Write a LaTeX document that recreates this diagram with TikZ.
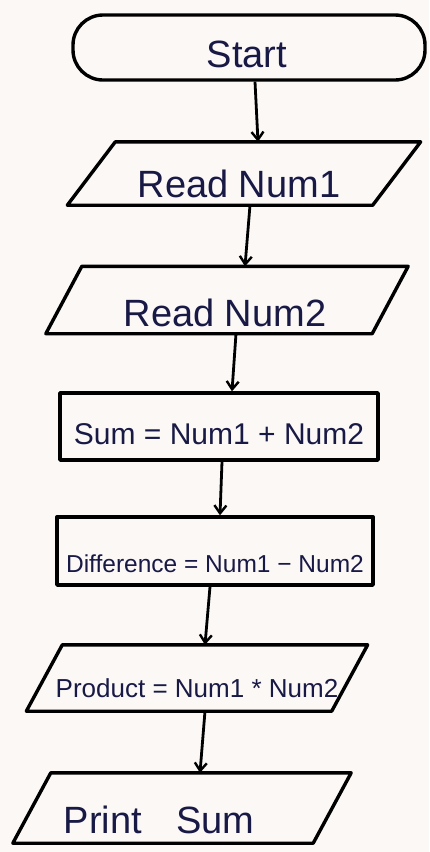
\documentclass[tikz,border=0pt]{standalone}
\usepackage{fontspec}
\setmainfont{Liberation Sans}
\usetikzlibrary{arrows.meta,calc}
\definecolor{ink}{RGB}{25,25,70}
\definecolor{paper}{RGB}{251,248,245}
\begin{document}
\begin{tikzpicture}[x=1pt,y=-1pt,
  box/.style={draw=black,line width=3.4pt,inner sep=0pt,line join=round},
  iobox/.style={inner sep=0pt},
  term/.style={box,rounded corners=30pt},
  flow/.style={line width=2.8pt,draw=black,-{Straight Barb[length=8pt,width=12pt,line width=2.4pt]}},
  lab/.style={text=ink,inner sep=0pt},
  slanted/.style={line width=3.4pt,line join=round,draw=black}]
\fill[paper] (0,0) rectangle (429,852);
\useasboundingbox (0,0) rectangle (429,852);

\node[term,minimum width=352pt,minimum height=65pt,
  label={[lab,font=\fontsize{38}{38}\selectfont,xshift=-2pt,yshift=-7pt]center:Start}]
  (start) at (249,47.5) {};
\node[iobox,minimum width=305pt,minimum height=63pt,
  label={[lab,font=\fontsize{38}{38}\selectfont,xshift=-5pt,yshift=-10pt]center:Read Num1}]
  (r1) at (244,173.5) {};
\node[iobox,minimum width=326pt,minimum height=67pt,
  label={[lab,font=\fontsize{38}{38}\selectfont,xshift=-2pt,yshift=-13pt]center:Read Num2}]
  (r2) at (227,300) {};
\node[box,minimum width=318pt,minimum height=67pt,
  label={[lab,font=\fontsize{30}{30}\selectfont,xshift=0pt,yshift=-8pt]center:Sum = Num1 + Num2}]
  (sum) at (219,426.5) {};
\node[box,minimum width=316pt,minimum height=68pt,
  label={[lab,font=\fontsize{24.5}{24.5}\selectfont,xshift=0pt,yshift=-13pt]center:Difference = Num1 − Num2}]
  (diff) at (215,551) {};
\node[iobox,minimum width=305pt,minimum height=66pt,
  label={[lab,font=\fontsize{26}{26}\selectfont,xshift=0pt,yshift=-10pt]center:Product = Num1 * Num2}]
  (prod) at (197,678) {};
\node[iobox,minimum width=300pt,minimum height=70pt,
  label={[lab,font=\fontsize{38}{38}\selectfont,xshift=-23pt,yshift=-12pt]center:Print\hspace{0.9em}Sum}]
  (pr) at (182,808) {};

\foreach \n/\s in {r1/24,r2/18,prod/18,pr/19}
  \draw[slanted] ([xshift=\s pt]\n.north west) -- ([xshift=\s pt]\n.north east)
    -- ([xshift=-\s pt]\n.south east) -- ([xshift=-\s pt]\n.south west) -- cycle;

\draw[flow] ([xshift=6pt]start.south) -- ([xshift=14pt]r1.north);
\draw[flow] ([xshift=6pt]r1.south) -- ([xshift=18pt]r2.north);
\draw[flow] ([xshift=9pt]r2.south) -- ([xshift=13pt]sum.north);
\draw[flow] ([xshift=3pt]sum.south) -- ([xshift=5pt]diff.north);
\draw[flow] ([xshift=-5pt]diff.south) -- ([xshift=8pt]prod.north);
\draw[flow] ([xshift=8pt]prod.south) -- ([xshift=18pt]pr.north);
\end{tikzpicture}
\end{document}
